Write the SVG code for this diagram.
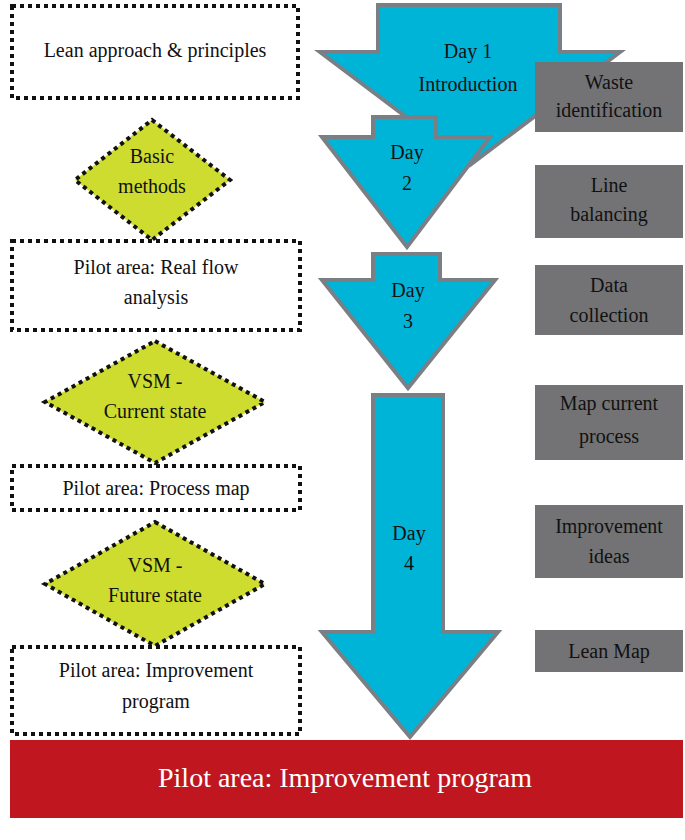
<svg xmlns="http://www.w3.org/2000/svg" width="685" height="840" viewBox="0 0 685 840">
<style>
text{font-family:"Liberation Serif","Times New Roman",serif;font-size:20px;fill:#111;text-anchor:middle}
.box{fill:#fff;stroke:#111;stroke-width:4;stroke-dasharray:4 4}
.dia{fill:#cddc2f;stroke:#111;stroke-width:4;stroke-dasharray:4 4}
.arr{fill:#00b4d8;stroke:#7a7f85;stroke-width:4;stroke-linejoin:miter}
.gray{fill:#737375}
</style>
<rect width="685" height="840" fill="#fff"/>
<g id="day1"><polygon class="arr" points="378,5 560,5 560,52 620,52 470,165 320,52 378,52"/><text x="468" y="58">Day 1</text><text x="468" y="91">Introduction</text></g>
<g id="day2"><polygon class="arr" points="373,117 436,117 436,137 490,137 407,247 322,137 373,137"/><text x="407" y="159">Day</text><text x="407" y="190">2</text></g>
<g id="day3"><polygon class="arr" points="373,254 440,254 440,280 495,280 408,388 322,280 373,280"/><text x="408" y="297">Day</text><text x="408" y="328">3</text></g>
<g id="day4"><polygon class="arr" points="373,395 443,395 443,632 498,632 410,737 322,632 373,632"/><text x="409" y="540">Day</text><text x="409" y="570">4</text></g>
<g id="waste"><rect class="gray" x="535" y="62" width="148" height="70"/><text x="609" y="89">Waste</text><text x="609" y="117">identification</text></g>
<g id="line"><rect class="gray" x="535" y="165" width="148" height="73"/><text x="609" y="192">Line</text><text x="609" y="221">balancing</text></g>
<g id="data"><rect class="gray" x="535" y="265" width="148" height="70"/><text x="609" y="292">Data</text><text x="609" y="322">collection</text></g>
<g id="mapcur"><rect class="gray" x="535" y="385" width="148" height="75"/><text x="609" y="410">Map current</text><text x="609" y="443">process</text></g>
<g id="ideas"><rect class="gray" x="535" y="505" width="148" height="73"/><text x="609" y="533">Improvement</text><text x="609" y="563">ideas</text></g>
<g id="leanmap"><rect class="gray" x="535" y="630" width="148" height="42"/><text x="609" y="658">Lean Map</text></g>
<g id="lean"><rect class="box" x="12" y="6" width="286" height="92"/><text x="155" y="57">Lean approach &amp; principles</text></g>
<g id="basic"><polygon class="dia" points="152,120 230,180 152,240 75,180"/><text x="152" y="163">Basic</text><text x="152" y="193">methods</text></g>
<g id="realflow"><rect class="box" x="12" y="241" width="288" height="89"/><text x="156" y="274">Pilot area: Real flow</text><text x="156" y="304">analysis</text></g>
<g id="vsmcur"><polygon class="dia" points="155,341 265,402 155,463 45,402"/><text x="155" y="388">VSM -</text><text x="155" y="418">Current state</text></g>
<g id="procmap"><rect class="box" x="12" y="466" width="288" height="44"/><text x="156" y="495">Pilot area: Process map</text></g>
<g id="vsmfut"><polygon class="dia" points="155,522 265,584 155,646 45,584"/><text x="155" y="572">VSM -</text><text x="155" y="602">Future state</text></g>
<g id="impprog"><rect class="box" x="12" y="647" width="288" height="87"/><text x="156" y="677">Pilot area: Improvement</text><text x="156" y="708">program</text></g>
<g id="bar"><rect x="10" y="740" width="673" height="78" fill="#c0161f"/><text x="345" y="787" style="font-size:28px;fill:#fff">Pilot area: Improvement program</text></g>
<g id="connectors"/>
</svg>
